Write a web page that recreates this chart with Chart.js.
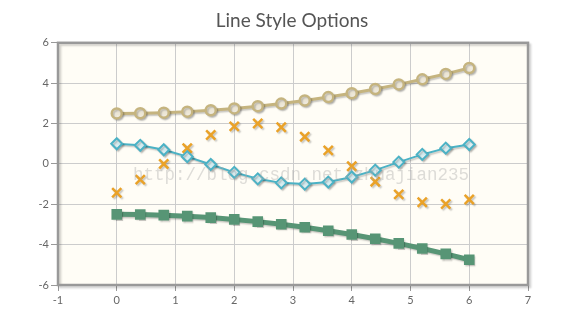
<!DOCTYPE html>
<html>
<head>
<meta charset="utf-8">
<script src="https://cdn.jsdelivr.net/npm/chart.js@4"></script>
<style>
  html, body { margin: 0; padding: 0; background: #ffffff; }
  #wrap { width: 584px; height: 328px; }
</style>
</head>
<body>
<div id="wrap"><canvas id="myChart" width="584" height="328"></canvas></div>
<script>
// sample positions along x
const xValues = [0, 0.4, 0.8, 1.2, 1.6, 2.0, 2.4, 2.8, 3.2, 3.6, 4.0, 4.4, 4.8, 5.2, 5.6, 6.0];

// series values
const cosValues = [1.0, 0.92, 0.7, 0.36, -0.03, -0.42, -0.74, -0.94, -1.0, -0.9, -0.65, -0.31, 0.09, 0.47, 0.78, 0.96];
const sinValues = [-1.43, -0.78, 0.0, 0.78, 1.43, 1.86, 2.0, 1.82, 1.35, 0.67, -0.12, -0.88, -1.51, -1.9, -1.99, -1.76];
const upperValues = [2.5, 2.51, 2.54, 2.59, 2.66, 2.75, 2.86, 2.99, 3.14, 3.31, 3.5, 3.71, 3.94, 4.19, 4.46, 4.75];
const lowerValues = [-2.5, -2.51, -2.54, -2.59, -2.66, -2.75, -2.86, -2.99, -3.14, -3.31, -3.5, -3.71, -3.94, -4.19, -4.46, -4.75];

// axis ticks
const xTicks = [-1, 0, 1, 2, 3, 4, 5, 6, 7];
const yTicks = [-6, -4, -2, 0, 2, 4, 6];

const toPoints = (ys) => ys.map((y, i) => ({ x: xValues[i], y: y }));

// plot background, frame and series shadows
const gridFrame = {
    id: 'gridFrame',
    beforeDraw(chart) {
        const { ctx, chartArea: a } = chart;
        ctx.save();
        ctx.fillStyle = '#fffdf6';
        ctx.fillRect(a.left, a.top, a.right - a.left, a.bottom - a.top);
        ctx.restore();
    },
    beforeDatasetsDraw(chart) {
        const { ctx, chartArea: a } = chart;
        ctx.save();
        ctx.shadowColor = 'rgba(0,0,0,0.18)';
        ctx.shadowOffsetX = 2;
        ctx.shadowOffsetY = 2;
        ctx.shadowBlur = 2;
        ctx.strokeStyle = '#999999';
        ctx.lineWidth = 2.5;
        ctx.strokeRect(a.left, a.top, a.right - a.left, a.bottom - a.top);
        ctx.restore();
        ctx.save();
        ctx.shadowColor = 'rgba(0,0,0,0.22)';
        ctx.shadowOffsetX = 1.5;
        ctx.shadowOffsetY = 1.5;
        ctx.shadowBlur = 1.5;
    },
    afterDatasetsDraw(chart) {
        const ctx = chart.ctx;
        ctx.restore();
        // blog watermark across the middle
        ctx.save();
        ctx.font = '17.5px "Liberation Mono"';
        ctx.fillStyle = 'rgba(170,170,170,0.4)';
        ctx.textBaseline = 'middle';
        ctx.fillText('http://blog.csdn.net/zhuajian235', 133, 175);
        ctx.restore();
    }
};

const ctx = document.getElementById('myChart').getContext('2d');
window.myChart = new Chart(ctx, {
    type: 'line',
    data: {
        datasets: [
            {
                data: toPoints(cosValues),
                borderColor: '#4bb2c5',
                borderWidth: 2,
                pointStyle: 'rectRot',
                pointRadius: 5.5,
                pointBorderWidth: 2,
                pointBackgroundColor: 'rgba(225,245,248,0.9)',
                pointBorderColor: '#4bb2c5',
                tension: 0,
            },
            {
                data: toPoints(sinValues),
                showLine: false,
                borderColor: '#eaa228',
                pointStyle: 'crossRot',
                pointRadius: 6.5,
                pointBorderWidth: 2.5,
                pointBorderColor: '#eaa228',
            },
            {
                data: toPoints(upperValues),
                borderColor: '#c5b47f',
                borderWidth: 3,
                pointStyle: 'circle',
                pointRadius: 5,
                pointBorderWidth: 2.5,
                pointBackgroundColor: 'rgba(245,240,225,0.9)',
                pointBorderColor: '#c5b47f',
                tension: 0,
            },
            {
                data: toPoints(lowerValues),
                borderColor: '#579575',
                borderWidth: 5,
                pointStyle: 'rect',
                pointRadius: 7.5,
                pointBorderWidth: 0,
                pointBackgroundColor: '#579575',
                tension: 0,
            }
        ]
    },
    options: {
        responsive: false,
        animation: false,
        events: [],
        layout: {
            padding: { left: 0, right: 0, top: 0, bottom: 0 }
        },
        scales: {
            x: {
                type: 'linear',
                min: -1,
                max: 7,
                afterBuildTicks: (scale) => { scale.ticks = xTicks.map(v => ({ value: v })); },
                afterFit: (scale) => { scale.height = 43; },
                border: { display: false },
                grid: { color: '#cccccc', lineWidth: 1, tickLength: 6, tickColor: '#999999' },
                ticks: { color: '#666666', font: { family: 'Lato', size: 11 }, padding: 3 }
            },
            y: {
                min: -6,
                max: 6,
                afterBuildTicks: (scale) => { scale.ticks = yTicks.map(v => ({ value: v })); },
                afterFit: (scale) => { scale.width = 58; },
                border: { display: false },
                grid: { color: '#cccccc', lineWidth: 1, tickLength: 7, tickColor: '#999999' },
                ticks: { color: '#666666', font: { family: 'Lato', size: 11 }, padding: 2 }
            },
            // empty right-hand axis that only reserves the margin
            yRight: {
                position: 'right',
                display: true,
                min: -6,
                max: 6,
                afterFit: (scale) => { scale.width = 56; },
                border: { display: false },
                grid: { display: false },
                ticks: { display: false }
            }
        },
        plugins: {
            title: {
                display: true,
                text: 'Line Style Options',
                color: '#555555',
                font: { family: 'Lato', size: 19, weight: 'normal' },
                padding: { top: 9, bottom: 11 }
            },
            legend: { display: false },
            tooltip: { enabled: false }
        }
    },
    plugins: [gridFrame]
});
</script>
</body>
</html>
